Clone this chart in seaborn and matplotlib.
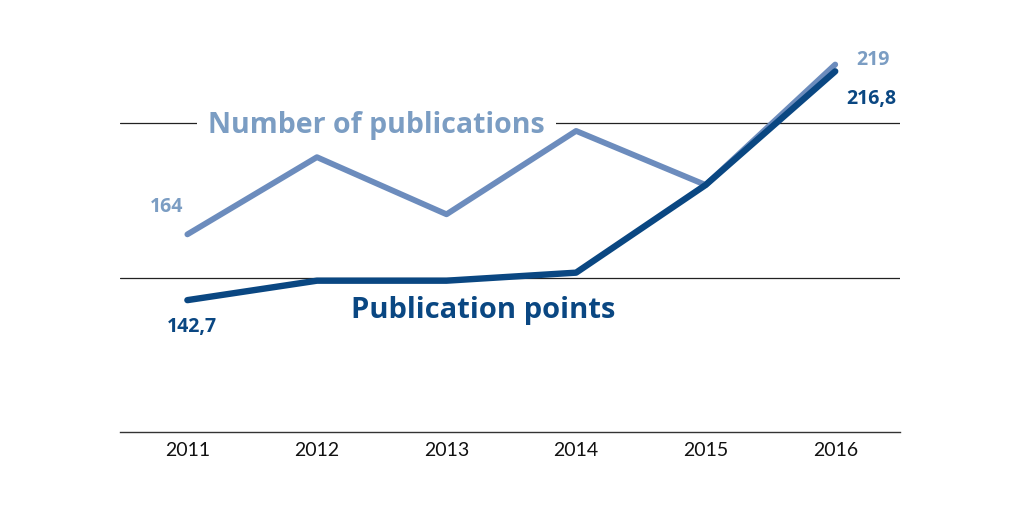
"""
Publications vs. publication points, 2011-2016.
"""

import matplotlib
matplotlib.use("Agg")
import matplotlib.pyplot as plt
import pandas as pd
import seaborn as sns

YEARS = [2011, 2012, 2013, 2014, 2015, 2016]
PUBLICATIONS = [164, 189, 170.5, 197.5, 180, 219]
POINTS = [142.7, 149, 149, 151.6, 180, 216.8]
GRID_LEVELS = [150, 200]

LIGHT_LINE = "#6c8cbd"
LIGHT_TEXT = "#7b9dc3"
DARK = "#0a4782"

sns.set_theme(style="white")
plt.rcParams["font.family"] = ["Open Sans", "DejaVu Sans"]

df = pd.DataFrame({"year": YEARS, "publications": PUBLICATIONS, "points": POINTS})

fig = plt.figure(figsize=(10.2, 5.07), dpi=100)
ax = fig.add_axes([120 / 1020, 75 / 507, 780 / 1020, 386 / 507])

for level in GRID_LEVELS:
    ax.axhline(level, color="#222222", linewidth=0.9, zorder=0)

sns.lineplot(data=df, x="year", y="publications", color=LIGHT_LINE, linewidth=4.2,
             ax=ax, zorder=2, solid_capstyle="round")
sns.lineplot(data=df, x="year", y="points", color=DARK, linewidth=4.6,
             ax=ax, zorder=3, solid_capstyle="round")

ax.set_xlim(2010.48, 2016.5)
ax.set_ylim(100, 225)
ax.set_xticks(YEARS)
ax.set_xticklabels([str(y) for y in YEARS], fontsize=14, color="#111111",
                   family=["Lato", "DejaVu Sans"])
ax.set_yticks([])
ax.set_xlabel("")
ax.set_ylabel("")
ax.tick_params(axis="x", length=0, pad=7)
for side in ["top", "right", "left"]:
    ax.spines[side].set_visible(False)
ax.spines["bottom"].set_color("#333333")
ax.spines["bottom"].set_linewidth(1.0)

# series names
ax.text(2012.46, 199.2, "Number of publications", ha="center", va="center",
        fontsize=20.5, fontweight="bold", color=LIGHT_TEXT, zorder=1,
        bbox=dict(facecolor="white", edgecolor="none", pad=8))
ax.text(2013.28, 139.2, "Publication points", ha="center", va="center",
        fontsize=21, fontweight="bold", color=DARK, zorder=4)

# value labels
ax.annotate("164", (YEARS[0], PUBLICATIONS[0]), xytext=(-15, 20), textcoords="offset points",
            ha="center", va="center", fontsize=14, fontweight="bold", color=LIGHT_TEXT)
ax.annotate("142,7", (YEARS[0], POINTS[0]), xytext=(3, -19), textcoords="offset points",
            ha="center", va="center", fontsize=14, fontweight="bold", color=DARK)
ax.annotate("219", (YEARS[-1], PUBLICATIONS[-1]), xytext=(27, 3), textcoords="offset points",
            ha="center", va="center", fontsize=14, fontweight="bold", color=LIGHT_TEXT)
ax.annotate("216,8", (YEARS[-1], POINTS[-1]), xytext=(26, -20), textcoords="offset points",
            ha="center", va="center", fontsize=14, fontweight="bold", color=DARK)

fig.savefig("out.png", dpi=100)
plt.close(fig)
